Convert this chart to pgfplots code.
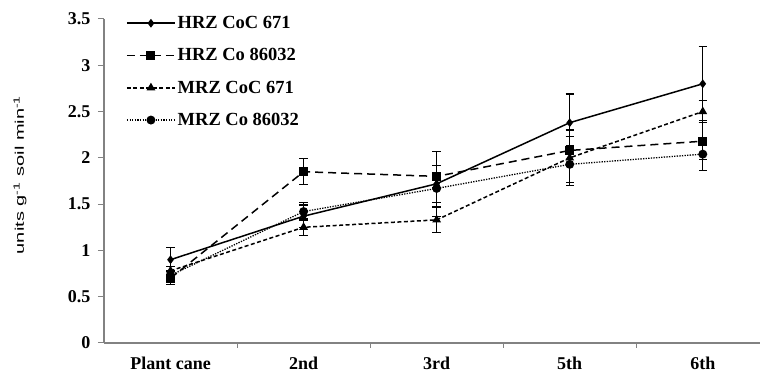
\documentclass[border=0pt]{standalone}
\usepackage{fontspec}
\setmainfont{Liberation Serif}
\newfontfamily\labelsans{Liberation Sans}
\usepackage{graphicx}
\usepackage{pgfplots}
\pgfplotsset{compat=1.18}
\definecolor{axgray}{RGB}{130,130,130}
\begin{document}
\begin{tikzpicture}
\begin{axis}[
  name=ax,
  at={(0,0)}, anchor=south west,
  scale only axis,
  width=656pt, height=324pt,
  xmin=-0.5, xmax=4.43,
  ymin=0, ymax=3.5,
  axis x line*=bottom, axis y line*=left,
  axis line style={axgray, line width=1.6pt, -},
  xtick={0,1,2,3,4},
  xticklabels={Plant cane,2nd,3rd,5th,6th},
  minor xtick={0.5,1.5,2.5,3.5},
  major x tick style={draw=none},
  minor x tick style={axgray, line width=1pt},
  minor tick length=5pt,
  ytick={0,0.5,...,3.5},
  yticklabels={0,0.5,1,1.5,2,2.5,3,3.5},
  y tick style={axgray, line width=1pt},
  major tick length=6pt,
  tick align=outside,
  tick label style={font=\fontsize{18}{18}\selectfont\bfseries},
  xticklabel style={yshift=-4pt},
  yticklabel style={xshift=-4pt},
  ylabel={\scalebox{1.6}[1.0]{\labelsans\fontsize{12.5}{13}\selectfont units g\textsuperscript{-1} soil min\textsuperscript{-1}}},
  ylabel style={at={(rel axis cs:-0.128,0.519)}, anchor=center},
  legend style={draw=none, fill=none, at={(0.032,1.018)}, anchor=north west,
    font=\fontsize{18.5}{18.5}\selectfont\bfseries, row sep=14.5pt, inner sep=1pt},
  legend cell align=left,
  legend image code/.code={\draw[mark repeat=2,mark phase=2] plot coordinates {(0pt,0pt)(24pt,0pt)(48pt,0pt)};},
  error bars/error bar style={black, line width=1.3pt, solid},
  error bars/error mark options={rotate=90, mark size=4.2pt, line width=1.3pt, solid},
]
\addplot[black, line width=1.5pt, mark=diamond*, mark size=3.2pt, mark options={solid},
  error bars/.cd, y dir=both, y explicit]
  coordinates {(0,0.90) +- (0,0.13) (1,1.37) +- (0,0.12) (2,1.72) +- (0,0.35) (3,2.38) +- (0,0.31) (4,2.80) +- (0,0.40)};
\addlegendentry{HRZ CoC 671}
\addplot[black, line width=1.5pt, dash pattern=on 8pt off 5pt, mark=square*, mark size=3.8pt, mark options={solid},
  error bars/.cd, y dir=both, y explicit]
  coordinates {(0,0.70) +- (0,0.07) (1,1.85) +- (0,0.14) (2,1.80) +- (0,0.12) (3,2.08) +- (0,0.15) (4,2.18) +- (0,0.20)};
\addlegendentry{HRZ Co 86032}
\addplot[black, line width=1.5pt, dash pattern=on 4pt off 2.5pt, mark=triangle*, mark size=3.6pt, mark options={solid},
  error bars/.cd, y dir=both, y explicit]
  coordinates {(0,0.78) +- (0,0.05) (1,1.25) +- (0,0.09) (2,1.33) +- (0,0.14) (3,2.00) +- (0,0.30) (4,2.50) +- (0,0.12)};
\addlegendentry{MRZ CoC 671}
\addplot[black, line width=1.3pt, dash pattern=on 1.3pt off 1.3pt, mark=*, mark size=3.8pt, mark options={solid},
  error bars/.cd, y dir=both, y explicit]
  coordinates {(0,0.73) +- (0,0.05) (1,1.42) +- (0,0.10) (2,1.67) +- (0,0.15) (3,1.93) +- (0,0.20) (4,2.04) +- (0,0.18)};
\addlegendentry{MRZ Co 86032}
\end{axis}
\pgfresetboundingbox
\path (-104pt,-34pt) rectangle (656pt,343pt);
\end{tikzpicture}
\end{document}
